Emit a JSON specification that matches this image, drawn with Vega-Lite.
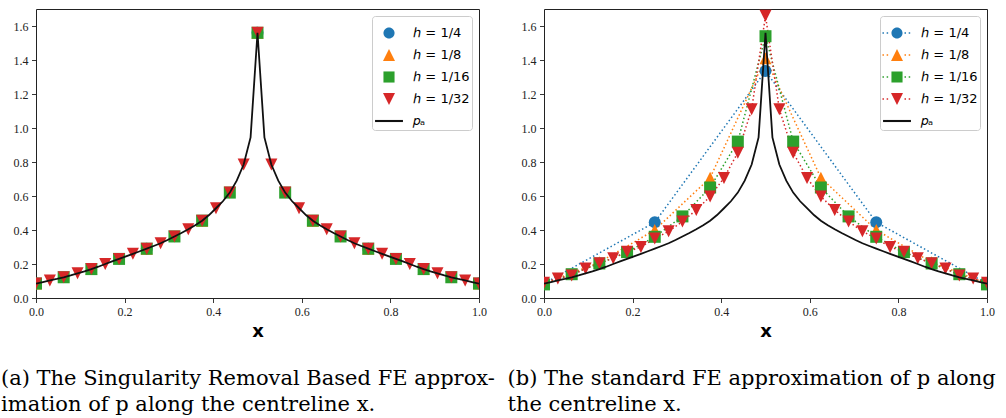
{
  "$schema": "https://vega.github.io/schema/vega-lite/v6.json",
  "padding": {"left": 0, "top": 8, "right": 0, "bottom": 0},
  "background": "white",
  "spacing": 65,
  "bounds": "flush",
  "config": {
    "view": {"stroke": "#222", "strokeWidth": 1},
    "axis": {"grid": false, "domain": false, "tickColor": "#222", "tickSize": 4.5, "tickWidth": 0.9,
      "labelFont": "Liberation Serif", "labelFontSize": 12, "labelColor": "#222", "labelPadding": 3.5,
      "titleFont": "DejaVu Sans", "titleFontWeight": "bold", "titleFontSize": 18, "titleColor": "#000"}
  },
  "resolve": {"scale": {"color": "independent", "shape": "independent"}, "legend": {"color": "independent", "shape": "independent"}},
  "datasets": {
    "pa": [
      {"x": 0, "p": 0.085}, {"x": 0.015625, "p": 0.094}, {"x": 0.03125, "p": 0.103}, {"x": 0.046875, "p": 0.112},
      {"x": 0.0625, "p": 0.122}, {"x": 0.078125, "p": 0.133}, {"x": 0.09375, "p": 0.145}, {"x": 0.109375, "p": 0.157},
      {"x": 0.125, "p": 0.17}, {"x": 0.140625, "p": 0.184}, {"x": 0.15625, "p": 0.2}, {"x": 0.171875, "p": 0.215},
      {"x": 0.1875, "p": 0.23}, {"x": 0.203125, "p": 0.245}, {"x": 0.21875, "p": 0.26}, {"x": 0.234375, "p": 0.275},
      {"x": 0.25, "p": 0.29}, {"x": 0.265625, "p": 0.306}, {"x": 0.28125, "p": 0.322}, {"x": 0.296875, "p": 0.341},
      {"x": 0.3125, "p": 0.362}, {"x": 0.328125, "p": 0.382}, {"x": 0.34375, "p": 0.404}, {"x": 0.359375, "p": 0.428},
      {"x": 0.375, "p": 0.455}, {"x": 0.390625, "p": 0.488}, {"x": 0.40625, "p": 0.528}, {"x": 0.421875, "p": 0.569},
      {"x": 0.4375, "p": 0.62}, {"x": 0.453125, "p": 0.69}, {"x": 0.46875, "p": 0.785}, {"x": 0.484375, "p": 0.945},
      {"x": 0.5, "p": 1.56},
      {"x": 0.515625, "p": 0.945}, {"x": 0.53125, "p": 0.785}, {"x": 0.546875, "p": 0.69}, {"x": 0.5625, "p": 0.62},
      {"x": 0.578125, "p": 0.569}, {"x": 0.59375, "p": 0.528}, {"x": 0.609375, "p": 0.488}, {"x": 0.625, "p": 0.455},
      {"x": 0.640625, "p": 0.428}, {"x": 0.65625, "p": 0.404}, {"x": 0.671875, "p": 0.382}, {"x": 0.6875, "p": 0.362},
      {"x": 0.703125, "p": 0.341}, {"x": 0.71875, "p": 0.322}, {"x": 0.734375, "p": 0.306}, {"x": 0.75, "p": 0.29},
      {"x": 0.765625, "p": 0.275}, {"x": 0.78125, "p": 0.26}, {"x": 0.796875, "p": 0.245}, {"x": 0.8125, "p": 0.23},
      {"x": 0.828125, "p": 0.215}, {"x": 0.84375, "p": 0.2}, {"x": 0.859375, "p": 0.184}, {"x": 0.875, "p": 0.17},
      {"x": 0.890625, "p": 0.157}, {"x": 0.90625, "p": 0.145}, {"x": 0.921875, "p": 0.133}, {"x": 0.9375, "p": 0.122},
      {"x": 0.953125, "p": 0.112}, {"x": 0.96875, "p": 0.103}, {"x": 0.984375, "p": 0.094}, {"x": 1, "p": 0.085}
    ],
    "fe_a": [
      {"series": "ℎ = 1/4", "x": 0, "p": 0.085}, {"series": "ℎ = 1/4", "x": 0.25, "p": 0.29}, {"series": "ℎ = 1/4", "x": 0.5, "p": 1.56},
      {"series": "ℎ = 1/4", "x": 0.75, "p": 0.29}, {"series": "ℎ = 1/4", "x": 1, "p": 0.085},
      {"series": "ℎ = 1/8", "x": 0, "p": 0.085}, {"series": "ℎ = 1/8", "x": 0.125, "p": 0.17}, {"series": "ℎ = 1/8", "x": 0.25, "p": 0.29},
      {"series": "ℎ = 1/8", "x": 0.375, "p": 0.455}, {"series": "ℎ = 1/8", "x": 0.5, "p": 1.56}, {"series": "ℎ = 1/8", "x": 0.625, "p": 0.455},
      {"series": "ℎ = 1/8", "x": 0.75, "p": 0.29}, {"series": "ℎ = 1/8", "x": 0.875, "p": 0.17}, {"series": "ℎ = 1/8", "x": 1, "p": 0.085},
      {"series": "ℎ = 1/16", "x": 0, "p": 0.085}, {"series": "ℎ = 1/16", "x": 0.0625, "p": 0.122}, {"series": "ℎ = 1/16", "x": 0.125, "p": 0.17},
      {"series": "ℎ = 1/16", "x": 0.1875, "p": 0.23}, {"series": "ℎ = 1/16", "x": 0.25, "p": 0.29}, {"series": "ℎ = 1/16", "x": 0.3125, "p": 0.362},
      {"series": "ℎ = 1/16", "x": 0.375, "p": 0.455}, {"series": "ℎ = 1/16", "x": 0.4375, "p": 0.62}, {"series": "ℎ = 1/16", "x": 0.5, "p": 1.56},
      {"series": "ℎ = 1/16", "x": 0.5625, "p": 0.62}, {"series": "ℎ = 1/16", "x": 0.625, "p": 0.455}, {"series": "ℎ = 1/16", "x": 0.6875, "p": 0.362},
      {"series": "ℎ = 1/16", "x": 0.75, "p": 0.29}, {"series": "ℎ = 1/16", "x": 0.8125, "p": 0.23}, {"series": "ℎ = 1/16", "x": 0.875, "p": 0.17},
      {"series": "ℎ = 1/16", "x": 0.9375, "p": 0.122}, {"series": "ℎ = 1/16", "x": 1, "p": 0.085},
      {"series": "ℎ = 1/32", "x": 0, "p": 0.085}, {"series": "ℎ = 1/32", "x": 0.03125, "p": 0.103}, {"series": "ℎ = 1/32", "x": 0.0625, "p": 0.122},
      {"series": "ℎ = 1/32", "x": 0.09375, "p": 0.145}, {"series": "ℎ = 1/32", "x": 0.125, "p": 0.17}, {"series": "ℎ = 1/32", "x": 0.15625, "p": 0.2},
      {"series": "ℎ = 1/32", "x": 0.1875, "p": 0.23}, {"series": "ℎ = 1/32", "x": 0.21875, "p": 0.26}, {"series": "ℎ = 1/32", "x": 0.25, "p": 0.29},
      {"series": "ℎ = 1/32", "x": 0.28125, "p": 0.322}, {"series": "ℎ = 1/32", "x": 0.3125, "p": 0.362}, {"series": "ℎ = 1/32", "x": 0.34375, "p": 0.404},
      {"series": "ℎ = 1/32", "x": 0.375, "p": 0.455}, {"series": "ℎ = 1/32", "x": 0.40625, "p": 0.528}, {"series": "ℎ = 1/32", "x": 0.4375, "p": 0.62},
      {"series": "ℎ = 1/32", "x": 0.46875, "p": 0.785}, {"series": "ℎ = 1/32", "x": 0.5, "p": 1.56}, {"series": "ℎ = 1/32", "x": 0.53125, "p": 0.785},
      {"series": "ℎ = 1/32", "x": 0.5625, "p": 0.62}, {"series": "ℎ = 1/32", "x": 0.59375, "p": 0.528}, {"series": "ℎ = 1/32", "x": 0.625, "p": 0.455},
      {"series": "ℎ = 1/32", "x": 0.65625, "p": 0.404}, {"series": "ℎ = 1/32", "x": 0.6875, "p": 0.362}, {"series": "ℎ = 1/32", "x": 0.71875, "p": 0.322},
      {"series": "ℎ = 1/32", "x": 0.75, "p": 0.29}, {"series": "ℎ = 1/32", "x": 0.78125, "p": 0.26}, {"series": "ℎ = 1/32", "x": 0.8125, "p": 0.23},
      {"series": "ℎ = 1/32", "x": 0.84375, "p": 0.2}, {"series": "ℎ = 1/32", "x": 0.875, "p": 0.17}, {"series": "ℎ = 1/32", "x": 0.90625, "p": 0.145},
      {"series": "ℎ = 1/32", "x": 0.9375, "p": 0.122}, {"series": "ℎ = 1/32", "x": 0.96875, "p": 0.103}, {"series": "ℎ = 1/32", "x": 1, "p": 0.085}
    ],
    "fe_b": [
      {"series": "ℎ = 1/4", "x": 0, "p": 0.085}, {"series": "ℎ = 1/4", "x": 0.25, "p": 0.445}, {"series": "ℎ = 1/4", "x": 0.5, "p": 1.335},
      {"series": "ℎ = 1/4", "x": 0.75, "p": 0.445}, {"series": "ℎ = 1/4", "x": 1, "p": 0.085},
      {"series": "ℎ = 1/8", "x": 0, "p": 0.085}, {"series": "ℎ = 1/8", "x": 0.125, "p": 0.21}, {"series": "ℎ = 1/8", "x": 0.25, "p": 0.4},
      {"series": "ℎ = 1/8", "x": 0.375, "p": 0.707}, {"series": "ℎ = 1/8", "x": 0.5, "p": 1.41}, {"series": "ℎ = 1/8", "x": 0.625, "p": 0.707},
      {"series": "ℎ = 1/8", "x": 0.75, "p": 0.4}, {"series": "ℎ = 1/8", "x": 0.875, "p": 0.21}, {"series": "ℎ = 1/8", "x": 1, "p": 0.085},
      {"series": "ℎ = 1/16", "x": 0, "p": 0.08}, {"series": "ℎ = 1/16", "x": 0.0625, "p": 0.14}, {"series": "ℎ = 1/16", "x": 0.125, "p": 0.203},
      {"series": "ℎ = 1/16", "x": 0.1875, "p": 0.27}, {"series": "ℎ = 1/16", "x": 0.25, "p": 0.36}, {"series": "ℎ = 1/16", "x": 0.3125, "p": 0.48},
      {"series": "ℎ = 1/16", "x": 0.375, "p": 0.65}, {"series": "ℎ = 1/16", "x": 0.4375, "p": 0.92}, {"series": "ℎ = 1/16", "x": 0.5, "p": 1.54},
      {"series": "ℎ = 1/16", "x": 0.5625, "p": 0.92}, {"series": "ℎ = 1/16", "x": 0.625, "p": 0.65}, {"series": "ℎ = 1/16", "x": 0.6875, "p": 0.48},
      {"series": "ℎ = 1/16", "x": 0.75, "p": 0.36}, {"series": "ℎ = 1/16", "x": 0.8125, "p": 0.27}, {"series": "ℎ = 1/16", "x": 0.875, "p": 0.203},
      {"series": "ℎ = 1/16", "x": 0.9375, "p": 0.14}, {"series": "ℎ = 1/16", "x": 1, "p": 0.08},
      {"series": "ℎ = 1/32", "x": 0, "p": 0.09}, {"series": "ℎ = 1/32", "x": 0.03125, "p": 0.115}, {"series": "ℎ = 1/32", "x": 0.0625, "p": 0.133},
      {"series": "ℎ = 1/32", "x": 0.09375, "p": 0.173}, {"series": "ℎ = 1/32", "x": 0.125, "p": 0.205}, {"series": "ℎ = 1/32", "x": 0.15625, "p": 0.234},
      {"series": "ℎ = 1/32", "x": 0.1875, "p": 0.272}, {"series": "ℎ = 1/32", "x": 0.21875, "p": 0.3}, {"series": "ℎ = 1/32", "x": 0.25, "p": 0.35},
      {"series": "ℎ = 1/32", "x": 0.28125, "p": 0.392}, {"series": "ℎ = 1/32", "x": 0.3125, "p": 0.45}, {"series": "ℎ = 1/32", "x": 0.34375, "p": 0.518},
      {"series": "ℎ = 1/32", "x": 0.375, "p": 0.597}, {"series": "ℎ = 1/32", "x": 0.40625, "p": 0.706}, {"series": "ℎ = 1/32", "x": 0.4375, "p": 0.855},
      {"series": "ℎ = 1/32", "x": 0.46875, "p": 1.11}, {"series": "ℎ = 1/32", "x": 0.5, "p": 1.66}, {"series": "ℎ = 1/32", "x": 0.53125, "p": 1.11},
      {"series": "ℎ = 1/32", "x": 0.5625, "p": 0.855}, {"series": "ℎ = 1/32", "x": 0.59375, "p": 0.706}, {"series": "ℎ = 1/32", "x": 0.625, "p": 0.597},
      {"series": "ℎ = 1/32", "x": 0.65625, "p": 0.518}, {"series": "ℎ = 1/32", "x": 0.6875, "p": 0.45}, {"series": "ℎ = 1/32", "x": 0.71875, "p": 0.392},
      {"series": "ℎ = 1/32", "x": 0.75, "p": 0.35}, {"series": "ℎ = 1/32", "x": 0.78125, "p": 0.3}, {"series": "ℎ = 1/32", "x": 0.8125, "p": 0.272},
      {"series": "ℎ = 1/32", "x": 0.84375, "p": 0.234}, {"series": "ℎ = 1/32", "x": 0.875, "p": 0.205}, {"series": "ℎ = 1/32", "x": 0.90625, "p": 0.173},
      {"series": "ℎ = 1/32", "x": 0.9375, "p": 0.133}, {"series": "ℎ = 1/32", "x": 0.96875, "p": 0.115}, {"series": "ℎ = 1/32", "x": 1, "p": 0.09}
    ]
  },
  "hconcat": [
    {
      "width": 443, "height": 289,
      "title": {"text": ["(a) The Singularity Removal Based FE approx-", "imation of p along the centreline x."],
        "orient": "bottom", "anchor": "start", "frame": "group", "dx": -35, "offset": 28,
        "font": "DejaVu Serif", "fontSize": 21, "fontWeight": "normal", "color": "#000", "lineHeight": 26},
      "encoding": {
        "x": {"field": "x", "type": "quantitative", "scale": {"domain": [0, 1], "nice": false, "zero": false},
          "axis": {"title": "x", "values": [0, 0.2, 0.4, 0.6, 0.8, 1], "format": ".1f", "labelFlush": false, "titlePadding": 5}},
        "y": {"field": "p", "type": "quantitative", "scale": {"domain": [0, 1.7], "nice": false, "zero": false},
          "axis": {"title": null, "values": [0, 0.2, 0.4, 0.6, 0.8, 1, 1.2, 1.4, 1.6], "format": ".1f"}}
      },
      "layer": [
        {"data": {"name": "fe_a"}, "transform": [{"filter": {"field": "series", "equal": "ℎ = 1/4"}}],
          "mark": {"type": "point", "filled": true, "shape": "circle", "size": 144, "color": "#1f77b4", "opacity": 1, "strokeWidth": 0, "clip": true}},
        {"data": {"name": "fe_a"}, "transform": [{"filter": {"field": "series", "equal": "ℎ = 1/8"}}],
          "mark": {"type": "point", "filled": true, "shape": "M0,-1L1,1L-1,1Z", "size": 144, "color": "#ff7f0e", "opacity": 1, "strokeWidth": 0, "clip": true}},
        {"data": {"name": "fe_a"}, "transform": [{"filter": {"field": "series", "equal": "ℎ = 1/16"}}],
          "mark": {"type": "point", "filled": true, "shape": "square", "size": 144, "color": "#2ca02c", "opacity": 1, "strokeWidth": 0, "clip": true}},
        {"data": {"name": "fe_a"}, "transform": [{"filter": {"field": "series", "equal": "ℎ = 1/32"}}],
          "mark": {"type": "point", "filled": true, "shape": "M0,1L1,-1L-1,-1Z", "size": 144, "color": "#d62728", "opacity": 1, "strokeWidth": 0, "clip": true}},
        {"data": {"name": "pa"}, "mark": {"type": "line", "color": "#111", "strokeWidth": 1.8, "clip": true}, "encoding": {}},
        {"data": {"name": "fe_a"},
          "mark": {"type": "point", "filled": true, "opacity": 0},
          "encoding": {
            "color": {"field": "series", "type": "nominal",
              "scale": {"domain": ["ℎ = 1/4", "ℎ = 1/8", "ℎ = 1/16", "ℎ = 1/32", "𝑝ₐ"], "range": ["#1f77b4", "#ff7f0e", "#2ca02c", "#d62728", "#111111"]},
              "legend": {"title": null, "orient": "top-right", "offset": 7, "padding": 2, "rowPadding": -7.5, "symbolSize": 900, "labelOffset": 9,
                "symbolStrokeWidth": 0, "symbolOpacity": 1, "labelFont": "DejaVu Sans", "labelFontSize": 13, "labelColor": "#000",
                "strokeColor": "#cccccc", "fillColor": "rgba(255,255,255,0.85)", "cornerRadius": 3, "labelLimit": 300}},
            "shape": {"field": "series", "type": "nominal",
              "scale": {"domain": ["ℎ = 1/4", "ℎ = 1/8", "ℎ = 1/16", "ℎ = 1/32", "𝑝ₐ"],
                "range": ["M0.37,0A0.37,0.37,0,1,1,-0.37,0A0.37,0.37,0,1,1,0.37,0Z", "M0,-0.4L0.4,0.4L-0.4,0.4Z", "M-0.37,-0.37H0.37V0.37H-0.37Z", "M0,0.4L0.4,-0.4L-0.4,-0.4Z", "M-0.93,-0.07H0.93V0.07H-0.93Z"]},
              "legend": {"title": null, "orient": "top-right", "offset": 7, "padding": 2, "rowPadding": -7.5, "symbolSize": 900, "labelOffset": 9,
                "symbolStrokeWidth": 0, "symbolOpacity": 1, "labelFont": "DejaVu Sans", "labelFontSize": 13, "labelColor": "#000",
                "strokeColor": "#cccccc", "fillColor": "rgba(255,255,255,0.85)", "cornerRadius": 3, "labelLimit": 300}}
          }}
      ]
    },
    {
      "width": 443, "height": 289,
      "title": {"text": ["(b) The standard FE approximation of p along", "the centreline x."],
        "orient": "bottom", "anchor": "start", "frame": "group", "dx": -36.5, "offset": 28,
        "font": "DejaVu Serif", "fontSize": 21, "fontWeight": "normal", "color": "#000", "lineHeight": 26},
      "encoding": {
        "x": {"field": "x", "type": "quantitative", "scale": {"domain": [0, 1], "nice": false, "zero": false},
          "axis": {"title": "x", "values": [0, 0.2, 0.4, 0.6, 0.8, 1], "format": ".1f", "labelFlush": false, "titlePadding": 5}},
        "y": {"field": "p", "type": "quantitative", "scale": {"domain": [0, 1.7], "nice": false, "zero": false},
          "axis": {"title": null, "values": [0, 0.2, 0.4, 0.6, 0.8, 1, 1.2, 1.4, 1.6], "format": ".1f"}}
      },
      "layer": [
        {"data": {"name": "fe_b"}, "transform": [{"filter": {"field": "series", "equal": "ℎ = 1/4"}}],
          "mark": {"type": "line", "color": "#1f77b4", "strokeWidth": 1.5, "strokeDash": [1.5, 2.5], "clip": true}, "encoding": {}},
        {"data": {"name": "fe_b"}, "transform": [{"filter": {"field": "series", "equal": "ℎ = 1/8"}}],
          "mark": {"type": "line", "color": "#ff7f0e", "strokeWidth": 1.5, "strokeDash": [1.5, 2.5], "clip": true}, "encoding": {}},
        {"data": {"name": "fe_b"}, "transform": [{"filter": {"field": "series", "equal": "ℎ = 1/16"}}],
          "mark": {"type": "line", "color": "#2ca02c", "strokeWidth": 1.5, "strokeDash": [1.5, 2.5], "clip": true}, "encoding": {}},
        {"data": {"name": "fe_b"}, "transform": [{"filter": {"field": "series", "equal": "ℎ = 1/32"}}],
          "mark": {"type": "line", "color": "#d62728", "strokeWidth": 1.5, "strokeDash": [1.5, 2.5], "clip": true}, "encoding": {}},
        {"data": {"name": "fe_b"}, "transform": [{"filter": {"field": "series", "equal": "ℎ = 1/4"}}],
          "mark": {"type": "point", "filled": true, "shape": "circle", "size": 144, "color": "#1f77b4", "opacity": 1, "strokeWidth": 0, "clip": true}},
        {"data": {"name": "fe_b"}, "transform": [{"filter": {"field": "series", "equal": "ℎ = 1/8"}}],
          "mark": {"type": "point", "filled": true, "shape": "M0,-1L1,1L-1,1Z", "size": 144, "color": "#ff7f0e", "opacity": 1, "strokeWidth": 0, "clip": true}},
        {"data": {"name": "fe_b"}, "transform": [{"filter": {"field": "series", "equal": "ℎ = 1/16"}}],
          "mark": {"type": "point", "filled": true, "shape": "square", "size": 144, "color": "#2ca02c", "opacity": 1, "strokeWidth": 0, "clip": true}},
        {"data": {"name": "fe_b"}, "transform": [{"filter": {"field": "series", "equal": "ℎ = 1/32"}}],
          "mark": {"type": "point", "filled": true, "shape": "M0,1L1,-1L-1,-1Z", "size": 144, "color": "#d62728", "opacity": 1, "strokeWidth": 0, "clip": true}},
        {"data": {"name": "pa"}, "mark": {"type": "line", "color": "#111", "strokeWidth": 1.8, "clip": true}, "encoding": {}},
        {"data": {"name": "fe_b"},
          "mark": {"type": "point", "filled": true, "opacity": 0},
          "encoding": {
            "color": {"field": "series", "type": "nominal",
              "scale": {"domain": ["ℎ = 1/4", "ℎ = 1/8", "ℎ = 1/16", "ℎ = 1/32", "𝑝ₐ"], "range": ["#1f77b4", "#ff7f0e", "#2ca02c", "#d62728", "#111111"]},
              "legend": {"title": null, "orient": "top-right", "offset": 7, "padding": 2, "rowPadding": -7.5, "symbolSize": 900, "labelOffset": 9,
                "symbolStrokeWidth": 0, "symbolOpacity": 1, "labelFont": "DejaVu Sans", "labelFontSize": 13, "labelColor": "#000",
                "strokeColor": "#cccccc", "fillColor": "rgba(255,255,255,0.85)", "cornerRadius": 3, "labelLimit": 300}},
            "shape": {"field": "series", "type": "nominal",
              "scale": {"domain": ["ℎ = 1/4", "ℎ = 1/8", "ℎ = 1/16", "ℎ = 1/32", "𝑝ₐ"],
                "range": [
                  "M-0.97,-0.05h0.1v0.1h-0.1ZM-0.69,-0.05h0.1v0.1h-0.1ZM0.5,-0.05h0.1v0.1h-0.1ZM0.78,-0.05h0.1v0.1h-0.1ZM0.37,0A0.37,0.37,0,1,1,-0.37,0A0.37,0.37,0,1,1,0.37,0Z",
                  "M-0.97,-0.05h0.1v0.1h-0.1ZM-0.69,-0.05h0.1v0.1h-0.1ZM0.5,-0.05h0.1v0.1h-0.1ZM0.78,-0.05h0.1v0.1h-0.1ZM0,-0.4L0.4,0.4L-0.4,0.4Z",
                  "M-0.97,-0.05h0.1v0.1h-0.1ZM-0.69,-0.05h0.1v0.1h-0.1ZM0.5,-0.05h0.1v0.1h-0.1ZM0.78,-0.05h0.1v0.1h-0.1ZM-0.37,-0.37H0.37V0.37H-0.37Z",
                  "M-0.97,-0.05h0.1v0.1h-0.1ZM-0.69,-0.05h0.1v0.1h-0.1ZM0.5,-0.05h0.1v0.1h-0.1ZM0.78,-0.05h0.1v0.1h-0.1ZM0,0.4L0.4,-0.4L-0.4,-0.4Z",
                  "M-0.93,-0.07H0.93V0.07H-0.93Z"]},
              "legend": {"title": null, "orient": "top-right", "offset": 7, "padding": 2, "rowPadding": -7.5, "symbolSize": 900, "labelOffset": 9,
                "symbolStrokeWidth": 0, "symbolOpacity": 1, "labelFont": "DejaVu Sans", "labelFontSize": 13, "labelColor": "#000",
                "strokeColor": "#cccccc", "fillColor": "rgba(255,255,255,0.85)", "cornerRadius": 3, "labelLimit": 300}}
          }}
      ]
    }
  ]
}
